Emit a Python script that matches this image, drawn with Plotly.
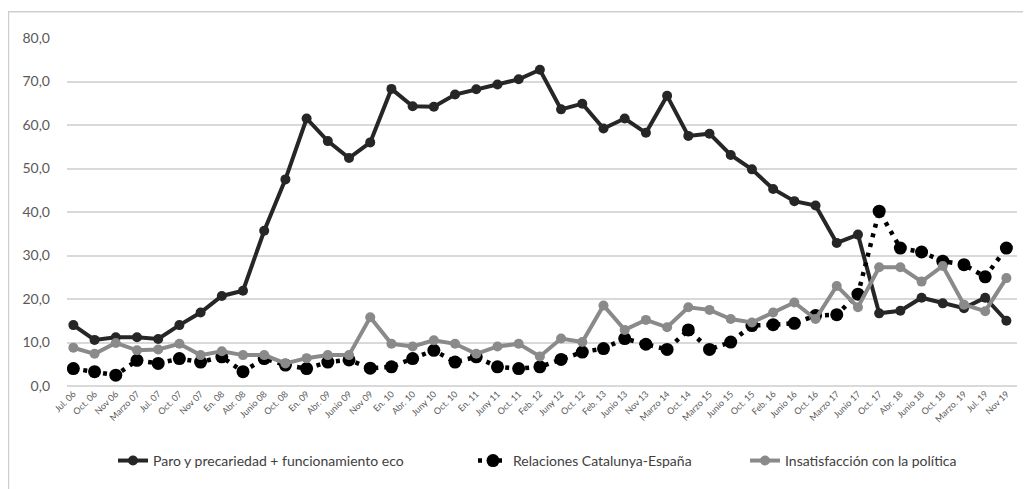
import plotly.graph_objects as go

categories = ["Jul. 06", "Oct. 06", "Nov 06", "Marzo 07", "Jul. 07", "Oct. 07", "Nov 07", "En. 08",
              "Abr. 08", "Junio 08", "Oct. 08", "En. 09", "Abr. 09", "Junio 09", "Nov 09", "En. 10",
              "Abr. 10", "Juny 10", "Oct. 10", "En. 11", "Juny 11", "Oct. 11", "Feb. 12", "Juny 12",
              "Oct. 12", "Feb. 13", "Junio 13", "Nov 13", "Marzo 14", "Oct. 14", "Marzo 15", "Junio 15",
              "Oct. 15", "Feb. 16", "Junio 16", "Oct. 16", "Marzo 17", "Junio 17", "Oct. 17", "Abr. 18",
              "Junio 18", "Oct. 18", "Marzo. 19", "Jul. 19", "Nov 19"]

paro = [14.0, 10.6, 11.2, 11.2, 10.8, 14.0, 16.9, 20.7, 21.9, 35.7, 47.5, 61.5, 56.3, 52.4, 56.0,
        68.3, 64.3, 64.2, 67.0, 68.2, 69.3, 70.5, 72.7, 63.6, 64.9, 59.2, 61.5, 58.2, 66.7, 57.5,
        58.0, 53.1, 49.8, 45.3, 42.5, 41.5, 32.9, 34.8, 16.7, 17.3, 20.3, 19.0, 17.9, 20.3, 15.0]

relaciones = [4.0, 3.3, 2.5, 5.9, 5.2, 6.3, 5.5, 6.7, 3.3, 6.3, 4.8, 4.0, 5.5, 6.0, 4.1,
              4.4, 6.3, 8.2, 5.5, 6.7, 4.4, 4.0, 4.4, 6.1, 7.8, 8.6, 10.9, 9.6, 8.4, 12.9,
              8.4, 10.1, 13.9, 14.1, 14.4, 16.2, 16.4, 21.1, 40.2, 31.7, 30.8, 28.7, 27.9, 25.1, 31.7]

insatisfaccion = [8.8, 7.4, 9.9, 8.2, 8.4, 9.7, 7.1, 8.0, 7.1, 7.1, 5.2, 6.4, 7.1, 7.1, 15.8,
                  9.7, 9.1, 10.5, 9.7, 7.4, 9.1, 9.7, 6.8, 10.9, 10.1, 18.5, 12.9, 15.2, 13.5, 18.1,
                  17.5, 15.4, 14.6, 16.9, 19.2, 15.4, 23.0, 18.1, 27.3, 27.3, 24.0, 27.6, 18.7, 17.2, 24.8]

# page offset (default body margin of the html page)
OFF = 8
W, H = 1031 - OFF, 489 - OFF
# plot area in page pixels
PL, PR, PT, PB = 67, 1017, 37.7, 386
ML, MR, MT, MB = PL - OFF, W - (PR - OFF), PT - OFF, H - (PB - OFF)

pw = W - ML - MR
ph = H - MT - MB


def px2x(px):
    return (px - OFF - ML) / pw


def py2y(py):
    return (H - MB - (py - OFF)) / ph


fig = go.Figure()
fig.add_trace(go.Scatter(
    x=categories, y=paro, mode="lines+markers",
    name="Paro y precariedad + funcionamiento eco",
    line=dict(color="#262626", width=4),
    marker=dict(color="#262626", size=10),
    legend="legend",
))
fig.add_trace(go.Scatter(
    x=categories, y=relaciones, mode="lines+markers",
    name="Relaciones Catalunya-España",
    line=dict(color="#000000", width=4.5, dash="4px,6px"),
    marker=dict(color="#000000", size=13),
    legend="legend2",
))
fig.add_trace(go.Scatter(
    x=categories, y=insatisfaccion, mode="lines+markers",
    name="Insatisfacción con la política",
    line=dict(color="#8a8a8a", width=4),
    marker=dict(color="#8a8a8a", size=10),
    legend="legend3",
))

leg_common = dict(orientation="h", xanchor="left", y=py2y(461), yanchor="middle",
                  font=dict(size=14, color="#404040"), bgcolor="rgba(0,0,0,0)")

fig.update_layout(
    width=W, height=H,
    margin=dict(l=ML, r=MR, t=MT, b=MB),
    paper_bgcolor="white", plot_bgcolor="white",
    separators=",.",
    font=dict(family="Lato, 'Open Sans', sans-serif", color="#595959"),
    showlegend=True,
    legend=dict(x=px2x(113), **leg_common),
    legend2=dict(x=px2x(473), **leg_common),
    legend3=dict(x=px2x(745), **leg_common),
    xaxis=dict(
        type="category", range=[-0.3, 44.5],
        tickangle=-45, tickfont=dict(size=9, color="#595959"),
        showgrid=False, showline=False, ticks="", zeroline=False,
    ),
    yaxis=dict(
        range=[0, 80], dtick=10, tickformat=".1f",
        showgrid=True, gridcolor="#d9d9d9", gridwidth=1.5,
        zeroline=True, zerolinecolor="#d9d9d9", zerolinewidth=1.5,
        showline=False, ticks="", ticklabelstandoff=16,
        tickfont=dict(size=14, color="#595959"),
    ),
    shapes=[dict(
        type="rect", xref="paper", yref="paper",
        x0=px2x(8.5), x1=px2x(1028), y0=py2y(495), y1=py2y(11.5),
        line=dict(color="#cfcfcf", width=1.5), fillcolor="rgba(0,0,0,0)", layer="below",
    )],
)

fig.write_html("out.html")
